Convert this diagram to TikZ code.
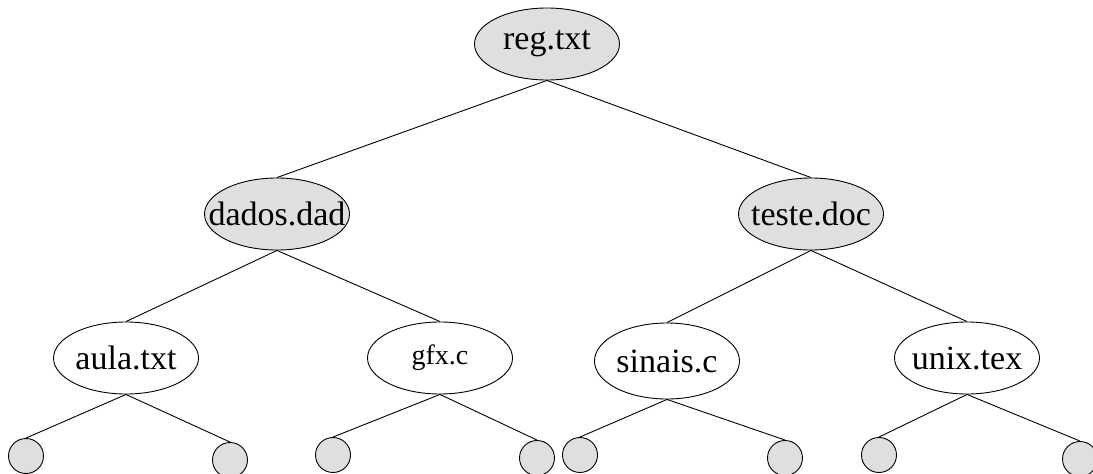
\documentclass[tikz,border=0pt]{standalone}
\usepackage{fontspec}
\setmainfont{Liberation Serif}
\usetikzlibrary{shapes.geometric}
\newcommand{\zlbl}[1]{\makebox[0pt]{#1}}
\tikzset{
  fname/.style={ellipse, draw, line width=0.9pt, minimum width=145pt, minimum height=72pt, inner sep=0pt, font=\fontsize{34}{34}\selectfont},
  dirnode/.style={fname, fill=gray!25},
  leaf/.style={circle, draw, line width=0.9pt, fill=gray!25, minimum size=35pt, inner sep=0pt},
  link/.style={line width=0.9pt}
}
\begin{document}
\begin{tikzpicture}[x=1pt,y=-1pt]
\useasboundingbox (0,0) rectangle (1093,474);
\clip (0,0) rectangle (1093,474);
\node[dirnode] (reg) at (547,44) {\zlbl{reg.txt}};
\node[dirnode] (dados) at (277,214) {\zlbl{dados.dad}};
\node[dirnode] (teste) at (811,214) {\zlbl{teste.doc}};
\node[fname] (aula) at (126,358) {\zlbl{aula.txt}};
\node[fname, font=\fontsize{28}{28}\selectfont] (gfx) at (440,358) {\zlbl{gfx.c}};
\node[fname, minimum height=76pt] (sinais) at (667,361) {\zlbl{sinais.c}};
\node[fname] (unix) at (967,358) {\zlbl{unix.tex}};
\node[leaf] (a1) at (26,456) {};
\node[leaf] (a2) at (230,460) {};
\node[leaf] (g1) at (333,455) {};
\node[leaf] (g2) at (537,458) {};
\node[leaf] (s1) at (580,455) {};
\node[leaf] (s2) at (785,458) {};
\node[leaf] (u1) at (879,455) {};
\node[leaf] (u2) at (1080,459) {};
\foreach \p/\c in {reg/dados, reg/teste, dados/aula, dados/gfx, teste/sinais, teste/unix,
  aula/a1, aula/a2, gfx/g1, gfx/g2, sinais/s1, sinais/s2, unix/u1, unix/u2}
  \draw[link] (\p.south) -- (\c.north);
\end{tikzpicture}
\end{document}
